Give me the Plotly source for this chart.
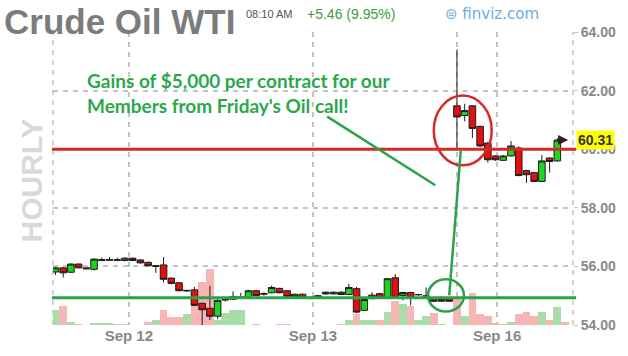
import plotly.graph_objects as go

# ---------------- data (hourly candles, index 0 = Sep 11 afternoon) ----------------
hour_index = list(range(66))
opens = [55.81, 55.95, 55.80, 56.08, 55.95, 55.90, 56.20, 56.21, 56.23, 56.20,
         56.28, 56.22, 56.14, 56.00, 56.05, 55.60, 55.44, 55.16, 55.20, 54.74,
         54.57, 54.30, 54.85, 54.88, 54.93, 54.92, 55.17, 55.05, 55.10, 55.25,
         55.17, 54.97, 55.05, 54.95, 54.94, 55.12, 55.06, 55.12, 55.04, 55.24,
         54.50, 54.90, 55.07, 54.94, 55.61, 55.01, 55.11, 55.03, 54.98, 54.91,
         54.81, 54.91, 61.48, 61.15, 61.48, 60.78, 60.21, 59.77, 59.62, 59.77,
         60.04, 59.27, 59.20, 58.90, 59.70, 59.60]
highs = [55.98, 55.98, 56.10, 56.10, 55.97, 56.27, 56.30, 56.32, 56.30, 56.32,
         56.30, 56.24, 56.16, 56.04, 56.32, 55.62, 55.46, 55.20, 55.30, 54.76,
         55.34, 54.90, 54.95, 55.15, 55.10, 55.20, 55.20, 55.12, 55.35, 55.27,
         55.19, 55.07, 55.07, 54.97, 55.03, 55.14, 55.14, 55.15, 55.41, 55.30,
         54.90, 55.12, 55.10, 55.60, 55.74, 55.13, 55.13, 55.06, 55.28, 54.94,
         54.98, 54.93, 63.40, 61.55, 61.50, 60.80, 60.25, 59.80, 59.80, 60.28,
         60.10, 59.30, 59.22, 59.80, 59.72, 60.38]
lows = [55.71, 55.62, 55.78, 55.93, 55.90, 55.86, 56.18, 56.19, 56.19, 56.18,
        56.18, 56.10, 56.00, 55.78, 55.45, 55.38, 55.15, 55.14, 54.65, 54.00,
        54.17, 54.20, 54.80, 54.86, 54.90, 54.90, 54.97, 55.00, 55.08, 55.08,
        54.90, 54.95, 54.92, 54.90, 54.92, 55.04, 55.04, 55.02, 55.02, 54.40,
        54.48, 54.88, 54.92, 54.92, 54.90, 54.84, 54.67, 55.00, 54.96, 54.78,
        54.79, 54.79, 60.00, 60.95, 60.38, 60.08, 59.54, 59.60, 59.60, 59.75,
        59.08, 58.85, 58.88, 58.88, 59.20, 59.58]
closes = [55.95, 55.78, 56.08, 55.95, 55.92, 56.25, 56.23, 56.23, 56.21, 56.28,
          56.20, 56.12, 56.02, 56.02, 55.56, 55.42, 55.17, 55.18, 54.67, 54.52,
          54.30, 54.84, 54.88, 54.97, 54.95, 55.17, 55.00, 55.07, 55.28, 55.10,
          54.97, 55.05, 54.94, 54.93, 55.00, 55.06, 55.12, 55.04, 55.28, 54.44,
          54.87, 55.02, 54.94, 55.58, 54.94, 55.11, 54.94, 55.04, 54.99, 54.81,
          54.87, 54.81, 61.10, 61.32, 60.71, 60.11, 59.64, 59.64, 59.77, 60.11,
          59.10, 59.13, 58.90, 59.60, 59.58, 60.31]

# hourly volume (contracts, approx.), last entry = hour in progress
volume_index = list(range(67))
volumes = [1500, 1900, 300, 100, 0, 200, 200, 200, 100, 50,
           0, 0, 300, 500, 1500, 800, 800, 1100, 2900, 4400,
           5700, 500, 1200, 1500, 1500, 0, 100, 0, 0, 100,
           100, 0, 0, 0, 0, 0, 0, 100, 500, 1100,
           500, 500, 500, 1300, 2400, 2100, 1900, 500, 900, 1200,
           100, 0, 2600, 900, 3300, 1100, 900, 200, 100, 300,
           1100, 1300, 900, 1300, 500, 1800, 300]
volume_scale_max = 29800

last_price = 60.31
price_ticks = [54, 56, 58, 60, 62, 64]
date_tick_pos = [9.5, 33.35, 52.0, 57.2]
date_tick_text = ["Sep 12", "Sep 13", "", "Sep 16"]
resistance_level = 60.00
support_level = 54.93

# ---------------- figure ----------------
GRID = "#c4c4c4"
vol_colors = ["#a9dca9" if c >= o else "#f7b6b6" for o, c in zip(opens, closes)]
vol_colors.append("#f7b6b6")

fig = go.Figure()
fig.add_trace(go.Bar(x=volume_index, y=volumes, marker=dict(color=vol_colors, line=dict(width=0)),
                     yaxis="y", hoverinfo="skip", showlegend=False))
fig.add_trace(go.Candlestick(
    x=hour_index, open=opens, high=highs, low=lows, close=closes, yaxis="y2",
    increasing=dict(line=dict(color="#1c1c1c", width=1), fillcolor="#1fd41f"),
    decreasing=dict(line=dict(color="#1c1c1c", width=1), fillcolor="#e31010"),
    whiskerwidth=0, showlegend=False))

shapes = [
    # plot borders (dashed like grid)
    dict(type="line", xref="paper", yref="paper", x0=0, x1=0, y0=0, y1=1,
         line=dict(color=GRID, width=1.5, dash="5px,5px"), layer="below"),
    dict(type="line", xref="paper", yref="paper", x0=1, x1=1, y0=0, y1=1,
         line=dict(color=GRID, width=1.5, dash="5px,5px"), layer="below"),
    # hand drawn markup
    dict(type="line", xref="paper", yref="y2", x0=-0.002, x1=1.006,
         y0=resistance_level, y1=resistance_level, line=dict(color="#d42a2a", width=3)),
    dict(type="line", xref="paper", yref="y2", x0=-0.002, x1=1.006,
         y0=support_level, y1=support_level, line=dict(color="#2ca34a", width=3)),
    dict(type="circle", xref="x", yref="y2", x0=49.0, x1=56.5, y0=59.45, y1=61.83,
         line=dict(color="#d42a2a", width=2.5)),
    dict(type="circle", xref="x", yref="y2", x0=48.25, x1=52.9, y0=54.46, y1=55.56,
         line=dict(color="#2ca34a", width=2.5)),
    dict(type="line", xref="x", yref="y2", x0=35.2, y0=61.11, x1=49.2, y1=58.77,
         line=dict(color="#2ca34a", width=2.5)),
    dict(type="line", xref="x", yref="y2", x0=51.0, y0=55.01, x1=52.5, y1=59.97,
         line=dict(color="#2ca34a", width=2.5)),
]

annotations = [
    dict(text="Crude Oil WTI", xref="paper", yref="paper", x=-0.098, y=1.037,
         xanchor="left", yanchor="middle", showarrow=False,
         font=dict(family="Liberation Sans", size=35, color="#7c7c7c", weight="bold")),
    dict(text="08:10 AM", xref="paper", yref="paper", x=(244 - 53) / 520, y=(330 - 14) / 298,
         xanchor="left", yanchor="middle", showarrow=False,
         font=dict(family="Liberation Sans", size=11, color="#555555")),
    dict(text="+5.46 (9.95%)", xref="paper", yref="paper", x=(305 - 53) / 520, y=(330 - 14) / 298,
         xanchor="left", yanchor="middle", showarrow=False,
         font=dict(family="Liberation Sans", size=14, color="#3a9e3a")),
    dict(text="⊜ finviz.com", xref="paper", yref="paper", x=(443 - 53) / 520, y=(330 - 14) / 298,
         xanchor="left", yanchor="middle", showarrow=False,
         font=dict(family="DejaVu Sans", size=15, color="#6aaee0")),
    dict(text="HOURLY", xref="paper", yref="paper", x=(31 - 53) / 520, y=(330 - 183) / 298,
         xanchor="center", yanchor="middle", textangle=-90, showarrow=False,
         font=dict(family="Liberation Sans", size=30, color="#d9d9d9", weight="bold")),
    dict(text="Gains of $5,000 per contract for our", xref="paper", yref="paper",
         x=(85 - 53) / 520, y=(330 - 81) / 298, xanchor="left", yanchor="middle", showarrow=False,
         font=dict(family="Lato", size=19, color="#2aa84a", weight="bold")),
    dict(text="Members from Friday's Oil call!", xref="paper", yref="paper",
         x=(85 - 53) / 520, y=(330 - 107) / 298, xanchor="left", yanchor="middle", showarrow=False,
         font=dict(family="Lato", size=19, color="#2aa84a", weight="bold")),
    # last price arrow + tag
    dict(text="", x=66.4, y=last_price, xref="x", yref="y2", ax=65.4, ay=last_price,
         axref="x", ayref="y2", showarrow=True, arrowhead=2, arrowsize=1, arrowwidth=2,
         arrowcolor="#3a1c1c"),
    dict(text="<b>%.2f</b>" % last_price, xref="paper", yref="y2", x=1.005, y=last_price,
         xanchor="left", yanchor="middle", showarrow=False, bgcolor="#ffff00", borderpad=1,
         font=dict(family="Liberation Sans", size=14, color="#333333")),
]

fig.update_layout(
    width=628, height=356,
    margin=dict(l=53, r=55, t=32, b=26),
    paper_bgcolor="white", plot_bgcolor="white",
    bargap=0, boxgap=0.15, boxgroupgap=0,
    showlegend=False,
    xaxis=dict(range=[-0.32, 67.03], tickvals=date_tick_pos, ticktext=date_tick_text,
               showgrid=True, gridcolor=GRID, griddash="5px,5px", gridwidth=1.5,
               zeroline=False, showline=False, ticks="", rangeslider=dict(visible=False),
               tickfont=dict(family="Liberation Sans", size=15, color="#888888", weight="bold")),
    yaxis=dict(range=[0, volume_scale_max], visible=False, fixedrange=True),
    yaxis2=dict(overlaying="y", side="right", range=[54, 64], tickvals=price_ticks,
                tickformat=".2f", showgrid=True, gridcolor=GRID, griddash="5px,5px", gridwidth=1.5,
                zeroline=False, showline=False, ticks="outside", ticklen=4, tickcolor=GRID,
                tickfont=dict(family="Liberation Sans", size=14, color="#888888", weight="bold")),
    shapes=shapes, annotations=annotations,
)

fig.write_html("out.html")
